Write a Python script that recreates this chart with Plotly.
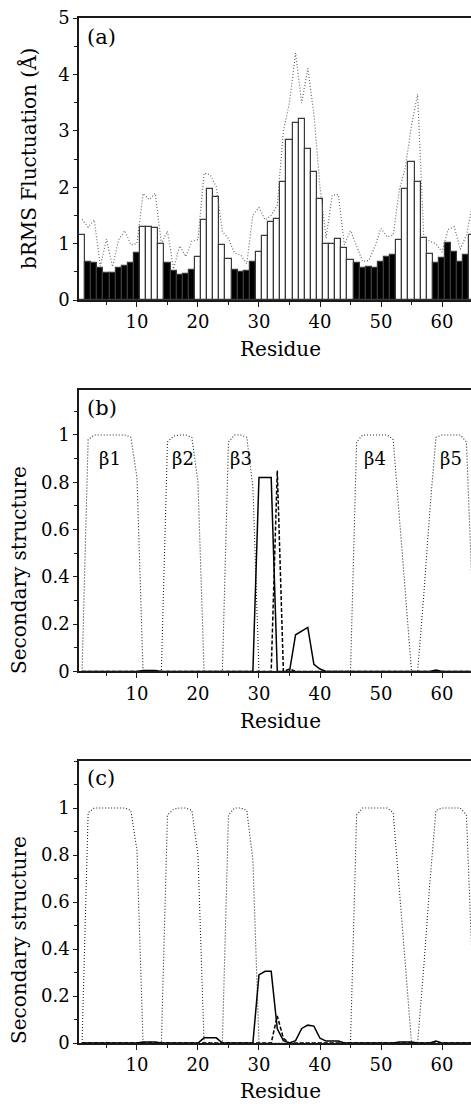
import plotly.graph_objects as go

# ---------------- data ----------------
residues = list(range(1, 66))

# panel (a): bRMS fluctuation bars (Å)
brms_bars = [1.16, 0.68, 0.66, 0.57, 0.47, 0.47, 0.56, 0.61, 0.66, 0.83,
             1.30, 1.29, 1.28, 0.99, 0.66, 0.52, 0.44, 0.46, 0.54, 0.76,
             1.41, 1.96, 1.82, 0.97, 0.72, 0.54, 0.50, 0.52, 0.68, 0.86,
             1.13, 1.38, 1.43, 2.09, 2.83, 3.14, 3.21, 2.68, 2.27, 1.79,
             0.99, 0.99, 1.09, 0.93, 0.71, 0.65, 0.57, 0.59, 0.57, 0.67,
             0.76, 0.80, 1.06, 1.96, 2.44, 2.10, 1.10, 0.82, 0.66, 0.74,
             1.01, 0.85, 0.68, 0.80, 1.15]
# 1 = residue inside a beta strand (black bar)
in_strand = [0, 1, 1, 1, 1, 1, 1, 1, 1, 1,
             0, 0, 0, 0, 1, 1, 1, 1, 1, 0,
             0, 0, 0, 0, 0, 1, 1, 1, 1, 0,
             0, 0, 0, 0, 0, 0, 0, 0, 0, 0,
             0, 0, 0, 0, 0, 1, 1, 1, 1, 1,
             1, 1, 0, 0, 0, 0, 0, 0, 1, 1,
             1, 1, 1, 1, 0]
# panel (a): dotted comparison curve
brms_dotted = [1.43, 1.29, 1.42, 0.60, 1.08, 0.59, 1.07, 1.23, 0.98, 1.00,
               1.89, 1.78, 1.89, 1.00, 1.22, 0.55, 0.96, 0.77, 1.04, 1.07,
               2.25, 2.22, 2.01, 1.21, 1.09, 0.83, 0.80, 0.64, 1.51, 1.64,
               1.42, 1.50, 1.68, 3.00, 3.50, 4.38, 3.49, 4.11, 3.30, 2.00,
               1.10, 1.86, 1.87, 0.98, 1.23, 0.95, 0.68, 0.70, 0.95, 1.27,
               1.12, 1.15, 1.95, 2.35, 3.10, 3.65, 1.12, 1.04, 1.00, 0.85,
               1.25, 1.30, 0.90, 1.15, 1.70]

# panels (b),(c): reference beta-strand profile (dotted)
ss_reference = [0.0, 0.98, 1.0, 1.0, 1.0, 1.0, 1.0, 1.0, 0.99, 0.82,
                0.0, 0.0, 0.0, 0.0, 0.97, 0.995, 1.0, 1.0, 0.99, 0.80,
                0.0, 0.0, 0.0, 0.0, 0.97, 1.0, 1.0, 0.99, 0.78, 0.0,
                0.0, 0.0, 0.0, 0.0, 0.0, 0.0, 0.0, 0.0, 0.0, 0.0,
                0.0, 0.0, 0.0, 0.0, 0.0, 0.97, 1.0, 1.0, 1.0, 1.0,
                1.0, 0.98, 0.67, 0.33, 0.0, 0.0, 0.32, 0.68, 0.99, 1.0,
                1.0, 1.0, 1.0, 0.97, 0.30]
# panel (b): solid and dashed
ss_b_solid = [0.0, 0.0, 0.0, 0.0, 0.0, 0.0, 0.0, 0.0, 0.0, 0.0,
              0.004, 0.004, 0.004, 0.0, 0.0, 0.0, 0.0, 0.0, 0.0, 0.0,
              0.003, 0.003, 0.0, 0.0, 0.0, 0.0, 0.0, 0.0, 0.0, 0.82,
              0.82, 0.82, 0.0, 0.0, 0.0, 0.155, 0.17, 0.186, 0.03, 0.01,
              0.0, 0.0, 0.0, 0.0, 0.0, 0.0, 0.0, 0.0, 0.0, 0.0,
              0.0, 0.0, 0.0, 0.0, 0.0, 0.0, 0.0, 0.0, 0.006, 0.0,
              0.0, 0.0, 0.0, 0.0, 0.0]
ss_b_dashed = [0.0] * 32 + [0.85, 0.0, 0.01] + [0.0] * 30
# panel (c): solid and dashed
ss_c_solid = [0.0, 0.0, 0.0, 0.0, 0.0, 0.0, 0.0, 0.0, 0.0, 0.0,
              0.004, 0.004, 0.004, 0.0, 0.0, 0.0, 0.0, 0.0, 0.0, 0.0,
              0.022, 0.022, 0.022, 0.0, 0.0, 0.0, 0.0, 0.0, 0.0, 0.29,
              0.305, 0.305, 0.06, 0.01, 0.0, 0.01, 0.062, 0.076, 0.072, 0.02,
              0.008, 0.008, 0.008, 0.0, 0.0, 0.0, 0.0, 0.0, 0.0, 0.0,
              0.0, 0.0, 0.004, 0.004, 0.004, 0.0, 0.0, 0.0, 0.008, 0.0,
              0.0, 0.0, 0.0, 0.0, 0.0]
ss_c_dashed = [0.0] * 32 + [0.115, 0.02] + [0.0] * 31

strand_labels = ["β1", "β2", "β3", "β4", "β5"]
strand_label_pos = [5.5, 17.5, 27.0, 49.0, 61.5]

a_ticks = [0, 1, 2, 3, 4, 5]
ss_ticks = [0, 0.2, 0.4, 0.6, 0.8, 1]
x_ticks = [10, 20, 30, 40, 50, 60]

# ---------------- figure ----------------
W, H = 471, 1104
FONT = "DejaVu Serif"
AX = "#1a1a1a"

fig = go.Figure()

fig.add_trace(go.Bar(
    x=residues, y=brms_bars, xaxis="x", yaxis="y",
    marker=dict(color=["black" if s else "white" for s in in_strand],
                line=dict(color="#3a3a3a", width=1.2)),
    width=1.0, showlegend=False))
fig.add_trace(go.Scatter(
    x=residues, y=brms_dotted, xaxis="x", yaxis="y", mode="lines",
    line=dict(color="#6a6a6a", width=1.2, dash="1px,2px"), showlegend=False))

for ax_x, ax_y, solid, dashed in [("x2", "y2", ss_b_solid, ss_b_dashed),
                                  ("x3", "y3", ss_c_solid, ss_c_dashed)]:
    fig.add_trace(go.Scatter(
        x=residues, y=ss_reference, xaxis=ax_x, yaxis=ax_y, mode="lines",
        line=dict(color="#222222", width=1.1, dash="1px,2px"), showlegend=False))
    fig.add_trace(go.Scatter(
        x=residues, y=dashed, xaxis=ax_x, yaxis=ax_y, mode="lines",
        line=dict(color="black", width=1.5, dash="4px,2px"), showlegend=False))
    fig.add_trace(go.Scatter(
        x=residues, y=solid, xaxis=ax_x, yaxis=ax_y, mode="lines",
        line=dict(color="black", width=1.5), showlegend=False))


def px_to_paper_y(py):
    return 1 - py / H


domains = {
    "a": [px_to_paper_y(300), px_to_paper_y(18)],
    "b": [px_to_paper_y(671.4), px_to_paper_y(390)],
    "c": [px_to_paper_y(1043), px_to_paper_y(761)],
}

xcommon = dict(range=[0.5, 64.75], tickmode="array", tickvals=x_ticks,
               ticks="outside", ticklen=5, tickwidth=1, tickcolor=AX,
               minor=dict(tickmode="array", tickvals=[5, 15, 25, 35, 45, 55, 65],
                          ticks="outside", ticklen=3, tickcolor=AX),
               showline=True, linecolor=AX, linewidth=1.5, mirror=True,
               showgrid=False, zeroline=False,
               tickfont=dict(family=FONT, size=18, color="black"),
               domain=[0, 1], automargin=False)
ycommon = dict(ticks="outside", ticklen=4, tickwidth=1, tickcolor=AX,
               showline=True, linecolor=AX, linewidth=1.5, mirror=False,
               showgrid=False, zeroline=False,
               tickfont=dict(family=FONT, size=18, color="black"),
               automargin=False)

fig.update_layout(
    width=W, height=H,
    margin=dict(l=79, r=0, t=0, b=0),
    paper_bgcolor="white", plot_bgcolor="white",
    font=dict(family=FONT),
    bargap=0,
    xaxis=dict(xcommon, anchor="y"),
    yaxis=dict(ycommon, domain=domains["a"], range=[0, 5], tickvals=a_ticks,
               minor=dict(dtick=0.5, tick0=0, ticks="outside", ticklen=3, tickcolor=AX),
               anchor="x"),
    xaxis2=dict(xcommon, anchor="y2"),
    yaxis2=dict(ycommon, domain=domains["b"], range=[0, 1.19], tickvals=ss_ticks,
                minor=dict(dtick=0.1, tick0=0, ticks="outside", ticklen=3, tickcolor=AX),
                anchor="x2"),
    xaxis3=dict(xcommon, anchor="y3"),
    yaxis3=dict(ycommon, domain=domains["c"], range=[0, 1.2], tickvals=ss_ticks,
                minor=dict(dtick=0.1, tick0=0, ticks="outside", ticklen=3, tickcolor=AX),
                anchor="x3"),
)

ann = []
# panel letters
for letter, py in [("(a)", 37), ("(b)", 408), ("(c)", 778)]:
    ann.append(dict(text=letter, xref="paper", yref="paper", x=0, xshift=6,
                    y=px_to_paper_y(py), xanchor="left", yanchor="middle",
                    showarrow=False, font=dict(family=FONT, size=21, color="black")))
# x titles
for py in [349, 721, 1091]:
    ann.append(dict(text="Residue", xref="paper", yref="paper",
                    x=(280 - 79) / (W - 79), y=px_to_paper_y(py),
                    xanchor="center", yanchor="middle", showarrow=False,
                    font=dict(family=FONT, size=20, color="black")))
# y titles
for text, pcx, pcy in [("bRMS Fluctuation (Å)", 28, 159),
                       ("Secondary structure", 19, 570),
                       ("Secondary structure", 19, 940)]:
    ann.append(dict(text=text, xref="paper", yref="paper", x=0, xshift=pcx - 79,
                    y=px_to_paper_y(pcy), xanchor="center", yanchor="middle",
                    textangle=-90, showarrow=False,
                    font=dict(family=FONT, size=20, color="black")))
# strand labels in panel (b)
for lab, xp in zip(strand_labels, strand_label_pos):
    ann.append(dict(text=lab, xref="x2", yref="y2", x=xp, y=0.9,
                    xanchor="center", yanchor="middle", showarrow=False,
                    font=dict(family=FONT, size=18, color="black")))
fig.update_layout(annotations=ann)

fig.write_html("out.html")
